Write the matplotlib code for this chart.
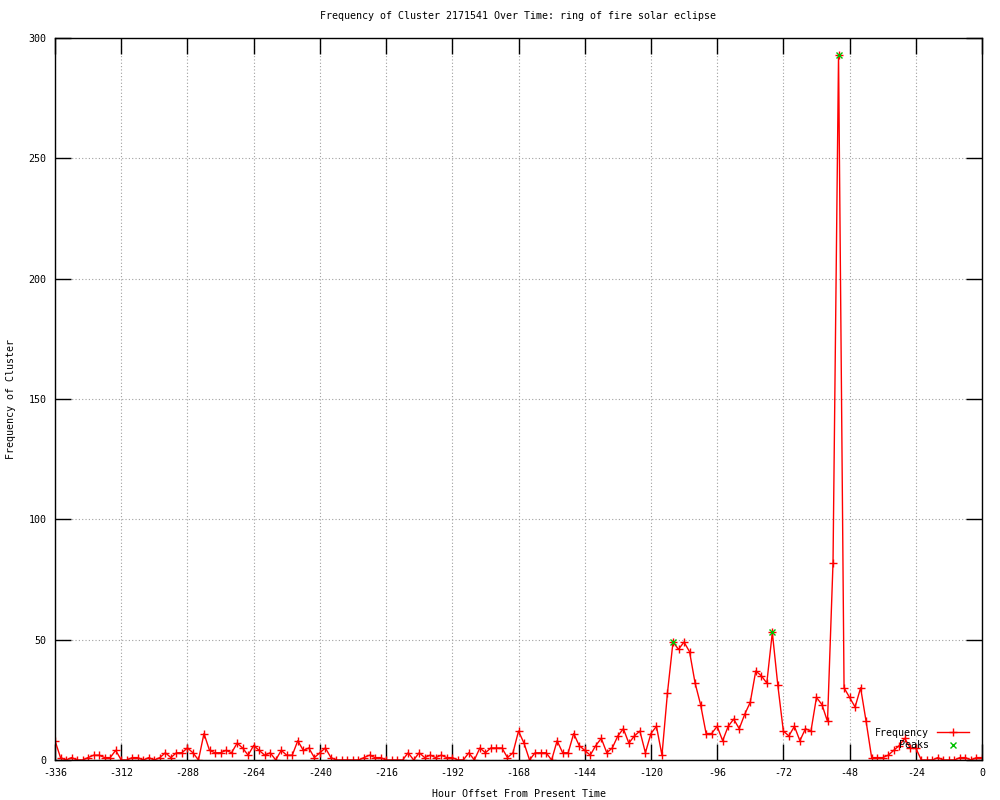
import matplotlib
matplotlib.use("Agg")
import matplotlib.pyplot as plt

# ==============================
# Dados
# ==============================
hours = list(range(-336, 1, 2))

frequency = [
    8, 1, 0, 1, 0, 0, 1, 2, 2, 1, 1, 4,          # -336 .. -314
    0, 0, 1, 1, 0, 1, 0, 1, 3, 1, 3, 3,          # -312 .. -290
    5, 3, 0, 11, 4, 3, 3, 4, 3, 7, 5, 2,         # -288 .. -266
    6, 4, 2, 3, 0, 4, 2, 2, 8, 4, 5, 1,          # -264 .. -242
    3, 5, 1, 0, 0, 0, 0, 0, 1, 2, 1, 1,          # -240 .. -218
    0, 0, 0, 0, 3, 0, 3, 1, 2, 1, 2, 1,          # -216 .. -194
    1, 0, 0, 3, 0, 5, 3, 5, 5, 5, 1, 3,          # -192 .. -170
    12, 7, 0, 3, 3, 3, 0, 8, 3, 3, 11, 6,        # -168 .. -146
    4, 2, 6, 9, 3, 5, 10, 13, 7, 10, 12, 3,      # -144 .. -122
    11, 14, 2, 28, 49, 46, 49, 45, 32, 23, 11, 11,  # -120 .. -98
    14, 8, 14, 17, 13, 19, 24, 37, 35, 32, 53, 31,  # -96 .. -74
    12, 10, 14, 8, 13, 12, 26, 23, 16, 82, 293, 30,  # -72 .. -50
    26, 22, 30, 16, 1, 1, 1, 2, 4, 6, 9, 5,      # -48 .. -26
    5, 0, 0, 0, 1, 0, 0, 0, 1, 1, 0, 1,          # -24 .. -2
    1,                                           # 0
]

peak_hours = [-112, -76, -52]
peak_values = [49, 53, 293]

x_ticks = list(range(-336, 1, 24))
y_ticks = list(range(0, 301, 50))

# ==============================
# Estilo parecido com o gnuplot
# ==============================
plt.rcParams['font.family'] = ['DejaVu Sans Mono']
plt.rcParams['font.size'] = 7.2
plt.rcParams['axes.unicode_minus'] = False

fig = plt.figure(figsize=(10, 8), dpi=100)
ax = fig.add_axes([0.055, 0.05, 0.927, 0.9025])

ax.plot(hours, frequency, color='#ff0000', linewidth=1.0, marker='+',
        markersize=5.5, markeredgewidth=1.0, label='Frequency')
ax.plot(peak_hours, peak_values, linestyle='none', color='#00c000', marker='x',
        markersize=5, markeredgewidth=1.0, label='Peaks')

ax.set_xlim(-336, 0)
ax.set_ylim(0, 300)
ax.set_xticks(x_ticks)
ax.set_yticks(y_ticks)

ax.grid(True, color='#a0a0a0', linestyle=(0, (1, 2)), linewidth=0.8)
ax.tick_params(direction='in', length=11.5, width=1, top=True, right=True,
               labelsize=7.2, colors='black', pad=6)
for s in ax.spines.values():
    s.set_linewidth(1)
    s.set_color('black')

ax.set_title('Frequency of Cluster 2171541 Over Time: ring of fire solar eclipse',
             fontsize=7.2, pad=14)
ax.set_xlabel('Hour Offset From Present Time', fontsize=7.2, labelpad=8)
ax.set_ylabel('Frequency of Cluster', fontsize=7.2, labelpad=9)

leg = ax.legend(loc='lower right', bbox_to_anchor=(0.99, 0.008), frameon=False,
                markerfirst=False, handlelength=3.2, handletextpad=0.8,
                labelspacing=0.25, borderaxespad=0, fontsize=7.2)
# texto alinhado à direita, como no gnuplot
for col in leg._legend_handle_box.get_children():
    col.align = 'right'

fig.savefig('out.png', dpi=100)
